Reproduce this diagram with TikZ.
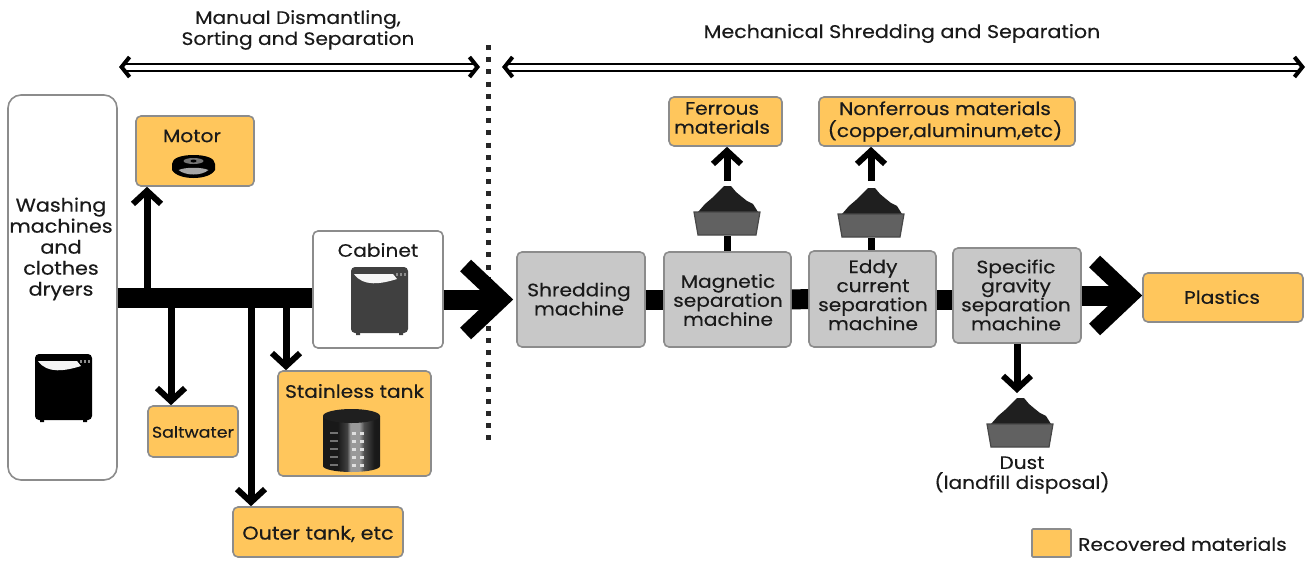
\documentclass[tikz,border=0pt]{standalone}
\usepackage{fontspec}
\setmainfont[FakeStretch=1.12,FakeBold=0.35]{Poppins}
\usepackage{xcolor}
\usetikzlibrary{arrows.meta}
\definecolor{goldfill}{HTML}{FFC65C}
\definecolor{machinefill}{HTML}{C8C8C8}
\definecolor{boxedge}{HTML}{8C8C8C}
\definecolor{inkcol}{HTML}{1A1A1A}
\pgfdeclarehorizontalshading{tankshade}{100bp}{color(0bp)=(black!90); color(38bp)=(black!90);
  color(46bp)=(black!75); color(49bp)=(black!40); color(57bp)=(black!40); color(61bp)=(black!70); color(70bp)=(black!90); color(100bp)=(black!90)}
\tikzset{
  basebox/.style={draw=boxedge,line width=1.6pt,rounded corners=5pt,inner sep=0pt},
  goldbox/.style={basebox,fill=goldfill},
  whitebox/.style={basebox,fill=white},
  machinebox/.style={basebox,fill=machinefill},
  caption/.style={font=\fontsize{18}{19}\selectfont,text=inkcol,align=center,inner sep=0pt},
  thinarrow/.style={line width=7pt,-{Straight Barb[length=13pt,width=28pt,line width=6pt]}},
  bigarrow/.style={line width=20pt,-{Straight Barb[length=36pt,width=68pt,line width=16pt]}},
  stub/.style={line width=20pt},
  spanarrow/.style={double,double distance=5pt,line width=2pt,
    {Straight Barb[length=8pt,width=20pt,line width=4pt]}-{Straight Barb[length=8pt,width=20pt,line width=4pt]}},
}
\newcommand{\drawwasher}[2]{%
  \begin{scope}[shift={#1}]
    \fill[#2,rounded corners=4pt] (0,0) rectangle (57,66);
    \fill[#2] (5,66) rectangle (9,68) (48,66) rectangle (52,68);
    \fill[white!92!gray] (3,7) .. controls (12,20) and (30,17) .. (46,12) -- (42,7) -- cycle;
    \foreach \dotx in {45,49,53}
      \fill[black!45] (\dotx,6) rectangle +(2,3);
  \end{scope}}
\newcommand{\drawbin}[1]{%
  \begin{scope}[shift={#1}]
    \fill[black!88] (-29,0) -- (-22,-8) -- (-15,-14) -- (-8,-21) -- (-3,-26) -- (4,-26) -- (9,-20)
      -- (15,-15) -- (20,-11) -- (26,-8) -- (31,0) -- cycle;
    \draw[fill=black!62,draw=black!72,line width=1.2pt] (-33,0) -- (33,0) -- (29,23) -- (-29,23) -- cycle;
  \end{scope}}
\begin{document}
\begin{tikzpicture}[x=1pt,y=-1pt]
  \useasboundingbox (0,0) rectangle (1310,562);
  % boxes on the dismantling side
  \node[whitebox,rounded corners=13pt,minimum width=109pt,minimum height=385pt] (washer) at (62.5,287.5) {};
  \node[goldbox,minimum width=118pt,minimum height=70pt] (motor) at (195,151) {};
  \node[goldbox,minimum width=90pt,minimum height=51pt] (saltwater) at (193,431.5) {};
  \node[goldbox,minimum width=153pt,minimum height=105pt] (stainless) at (354.5,423.5) {};
  \node[goldbox,minimum width=170pt,minimum height=50pt] (outer) at (318,532) {};
  \node[whitebox,minimum width=130pt,minimum height=117pt] (cabinet) at (378,289.5) {};
  % machines
  \node[machinebox,minimum width=128pt,minimum height=95pt] (shredding) at (581,299.5) {};
  \node[machinebox,minimum width=127pt,minimum height=95pt] (magnetic) at (727.5,299.5) {};
  \node[machinebox,minimum width=127pt,minimum height=96pt] (eddy) at (872.5,299) {};
  \node[machinebox,minimum width=128pt,minimum height=95pt] (gravity) at (1017,295.5) {};
  \node[goldbox,minimum width=160pt,minimum height=49pt] (plastics) at (1223,297.5) {};
  \node[goldbox,minimum width=113pt,minimum height=49pt] (ferrous) at (725.5,121.5) {};
  \node[goldbox,minimum width=256pt,minimum height=49pt] (nonferrous) at (947,121.5) {};
  \node[goldbox,rounded corners=1pt,minimum width=39pt,minimum height=28pt] (legendbox) at (1051.5,543) {};
  % texts
  \node[caption,font=\fontsize{18.5}{21}\selectfont] (washertext) at (61,249) {Washing\\machines\\and\\clothes\\dryers};
  \node[caption] (motortext) at (192,136) {Motor};
  \node[caption,font=\fontsize{15.5}{18}\selectfont] (saltwatertext) at (193,432) {Saltwater};
  \node[caption] (stainlesstext) at (354.5,391) {Stainless tank};
  \node[caption,font=\fontsize{18.5}{19}\selectfont] (outertext) at (318,534) {Outer tank, etc};
  \node[caption] (cabinettext) at (378,250) {Cabinet};
  \node[caption] (shreddingtext) at (579,299) {Shredding\\machine};
  \node[caption] (magnetictext) at (728,300) {Magnetic\\separation\\machine};
  \node[caption] (eddytext) at (873,295) {Eddy\\current\\separation\\machine};
  \node[caption] (gravitytext) at (1016,295) {Specific\\gravity\\separation\\machine};
  \node[caption] (plasticstext) at (1222,297) {Plastics};
  \node[caption] (ferroustext) at (722,118) {Ferrous\\materials};
  \node[caption,font=\fontsize{18}{22}\selectfont] (nonferroustext) at (945,121.5) {Nonferrous materials\\(copper,aluminum,etc)};
  \node[caption,font=\fontsize{18}{20}\selectfont] (dusttext) at (1022,475) {Dust\\(landfill disposal)};
  \node[caption,anchor=west] (legendtext) at (1078,544) {Recovered materials};
  \node[caption,font=\fontsize{18}{21}\selectfont] (manualtext) at (298,30) {Manual Dismantling,\\Sorting and Separation};
  \node[caption,font=\fontsize{18.4}{19}\selectfont] (mechtext) at (902,33.5) {Mechanical Shredding and Separation};
  % icons
  \drawwasher{(35,354)}{black}
  \drawwasher{(351,267)}{black!75}
  \drawbin{(727,212)}
  \drawbin{(871,214)}
  \drawbin{(1020,424)}
  \begin{scope}[shift={(193.5,167)}]
    \fill[black] (-21.5,-3) .. controls (-21.5,-9) and (-12,-12) .. (0,-12) .. controls (12,-12) and (21.5,-9) .. (21.5,-3)
      -- (21.5,3) .. controls (18,9) and (8,11) .. (0,11) .. controls (-8,11) and (-18,9) .. (-21.5,3) -- cycle;
    \fill[black!35] (-15,3) .. controls (-8,0) and (8,0) .. (15,3) .. controls (8,9) and (-8,9) .. (-15,3) -- cycle;
    \fill[black!55] (0,-6) ellipse (10 and 3);
    \fill[black] (0,-6) ellipse (3 and 1.5);
  \end{scope}
  \begin{scope}[shift={(351.5,409)}]
    \shade[shading=tankshade] (-28.5,7) -- (28.5,7) -- (28.5,57) arc (0:180:28.5 and 6) -- cycle;
    \fill[black!88] (0,7) ellipse (28.5 and 7);
    \foreach \row in {24,32,...,56}
      \foreach \col in {2,10}
        \fill[black!12] (\col-2,\row-1.5) rectangle +(4,3);
    \foreach \row in {24,32,...,56}
      \fill[black!55] (-22,\row-1) rectangle +(8,2);
  \end{scope}
  % routes
  \coordinate (motorjoin) at (147,298);
  \coordinate (saltjoin) at (171,298);
  \coordinate (outerjoin) at (251,298);
  \coordinate (tankjoin) at (286,298);
  \draw[stub] (washer.east |- motorjoin) -- (cabinet.west |- motorjoin);
  \draw[thinarrow] (motorjoin) -- (motorjoin |- motor.south);
  \draw[thinarrow] (saltjoin) -- (saltjoin |- saltwater.north);
  \draw[thinarrow] (outerjoin) -- (outerjoin |- outer.north);
  \draw[thinarrow] (tankjoin) -- (tankjoin |- stainless.north);
  % dotted divider
  \coordinate (dividertop) at (488,45);
  \coordinate (dividerbot) at (488,442);
  \draw[line width=5pt,dash pattern=on 5pt off 7.2pt,black!85] (dividertop) -- (dividerbot);
  \draw[bigarrow,shorten >=3pt] (cabinet.east |- shredding) -- (shredding.west);
  \draw[stub] (shredding) -- (magnetic);
  \draw[stub] (magnetic) -- (eddy);
  \draw[stub] (eddy.east |- magnetic) -- (gravity.west |- magnetic);
  \draw[bigarrow] (gravity.east) -- (plastics.west |- gravity);
  % outputs
  \coordinate (ferrousbin) at (727,181);
  \coordinate (ferrousbase) at (727,236);
  \coordinate (nonferrousbin) at (871,181);
  \coordinate (nonferrousbase) at (871,238);
  \coordinate (dustbin) at (1017,393);
  \draw[thinarrow] (ferrousbin) -- (ferrousbin |- ferrous.south);
  \draw[line width=7pt] (ferrousbase) -- (ferrousbase |- magnetic.north);
  \draw[thinarrow] (nonferrousbin) -- (nonferrousbin |- nonferrous.south);
  \draw[line width=7pt] (nonferrousbase) -- (nonferrousbase |- eddy.north);
  \draw[thinarrow] (dustbin |- gravity.south) -- (dustbin);
  % process spans
  \coordinate (manualleft) at (119,67);
  \coordinate (manualright) at (480,67);
  \coordinate (mechleft) at (502,67);
  \coordinate (mechright) at (1305,67);
  \draw[spanarrow] (manualleft) -- (manualright);
  \draw[spanarrow] (mechleft) -- (mechright);
\end{tikzpicture}
\end{document}
